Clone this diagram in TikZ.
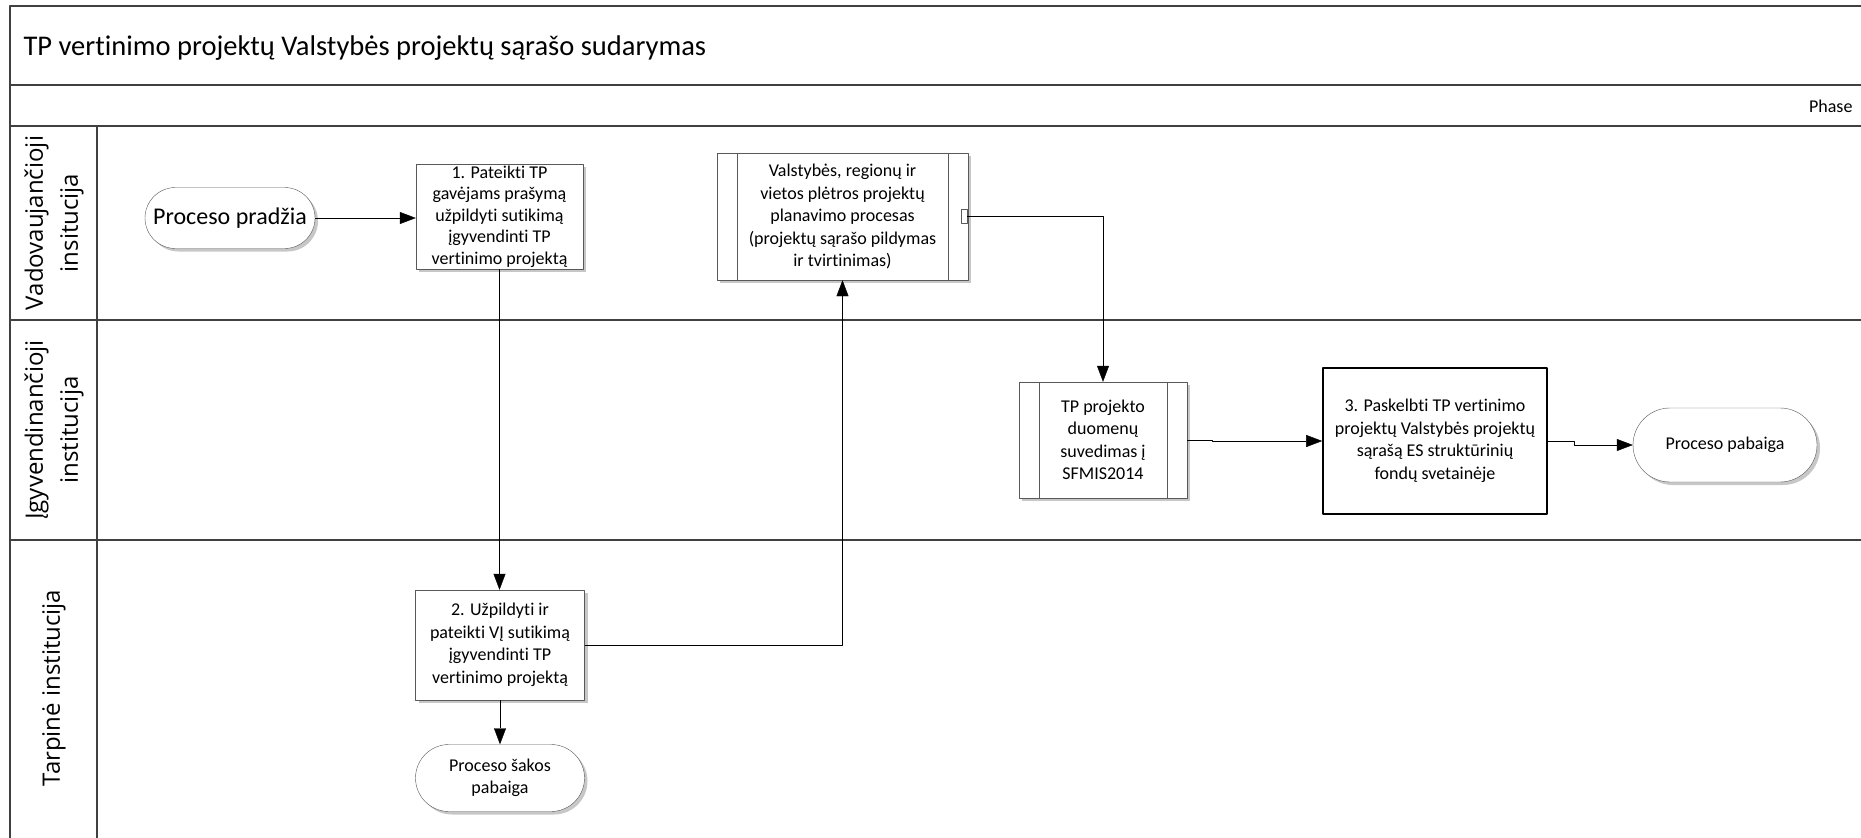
\documentclass[tikz,border=0pt]{standalone}
\usepackage{fontspec}
\setmainfont{Carlito}[Ligatures=NoCommon]
\newfontfamily\lanefont{Open Sans}
\usetikzlibrary{shapes.misc,shadows,arrows.meta}
\begin{document}
\begin{tikzpicture}[x=1pt,y=-1pt, line join=round, >={Triangle[length=16pt,width=12pt]},
  box/.style={draw=black!65, fill=white, align=center, inner sep=0pt, font=\fontsize{18}{22.5}\selectfont},
  task/.style={box, drop shadow={shadow xshift=3pt,shadow yshift=-3pt,fill=black!22,opacity=1}},
  sub/.style={task, path picture={\draw[black!65]
    ([xshift=20pt]path picture bounding box.north west)--([xshift=20pt]path picture bounding box.south west)
    ([xshift=-20pt]path picture bounding box.north east)--([xshift=-20pt]path picture bounding box.south east);}},
  term/.style={task, rounded rectangle},
  lane/.style={rotate=90, align=center, font=\lanefont\fontsize{24}{35}\selectfont},
  band/.style={draw=black!75, line width=1.5pt}]
\useasboundingbox (0,0) rectangle (1861,838);
\clip (0,0) rectangle (1861,838);
\draw[band] (1870,6)--(10,6)--(10,845);
\foreach \y in {85,126,320,540} \draw[band] (10,\y)--(1870,\y);
\draw[band] (97,126)--(97,845);
\node[anchor=base west, font=\fontsize{28.5}{34}\selectfont] (title) at (20,55) {TP vertinimo projektų Valstybės projektų sąrašo sudarymas};
\node[anchor=base east, font=\fontsize{18}{22}\selectfont] (phase) at (1856,112) {Phase};
\node[lane] (lane1) at (54,223) {Vadovaujančioji\\insitucija};
\node[lane] (lane2) at (54,430) {Įgyvendinančioji\\institucija};
\node[lane] (lane3) at (54,688) {Tarpinė institucija};
\node[term, minimum width=170pt, minimum height=61pt, font=\fontsize{24}{28}\selectfont] (start) at (230,218) {Proceso pradžia};
\node[task, minimum width=167pt, minimum height=105pt, font=\fontsize{18}{21.5}\selectfont] (t1) at (499.5,216.5) {1. Pateikti TP\\gavėjams prašymą\\užpildyti sutikimą\\įgyvendinti TP\\vertinimo projektą};
\node[sub, minimum width=251pt, minimum height=127pt] (plan) at (842.5,216.5) {Valstybės, regionų ir\\vietos plėtros projektų\\planavimo procesas\\(projektų sąrašo pildymas\\ir tvirtinimas)};
\node[box, minimum width=6pt, minimum height=14pt, anchor=east] (port) at ([xshift=-1pt]plan.east) {};
\node[sub, minimum width=168pt, minimum height=116pt] (t4) at (1103,440) {TP projekto\\duomenų\\suvedimas į\\SFMIS2014};
\node[box, draw=black, line width=1.6pt, minimum width=224pt, minimum height=146pt] (t3) at (1435,441) {3. Paskelbti TP vertinimo\\projektų Valstybės projektų\\sąrašą ES struktūrinių\\fondų svetainėje};
\node[term, minimum width=184pt, minimum height=74pt] (stop) at (1725,445) {Proceso pabaiga};
\node[task, minimum width=169pt, minimum height=110pt] (t2) at (500,645) {2. Užpildyti ir\\pateikti VĮ sutikimą\\įgyvendinti TP\\vertinimo projektą};
\node[term, minimum width=169pt, minimum height=67pt] (branch) at (500,778) {Proceso šakos\\pabaiga};
\draw[->](start.east)--(start.east-|t1.west);
\draw[->](t1.south)--(t1.south|-t2.north);
\draw[->](t2.east)-|(plan.south);
\draw[->](port.east)-|(t4.north);
\draw[->](t4.east)--++(25,0)|-(t3.west);
\draw[->](t3.east)--++(26,0)|-(stop.west);
\draw[->](t2.south)--(branch.north);
\end{tikzpicture}
\end{document}
